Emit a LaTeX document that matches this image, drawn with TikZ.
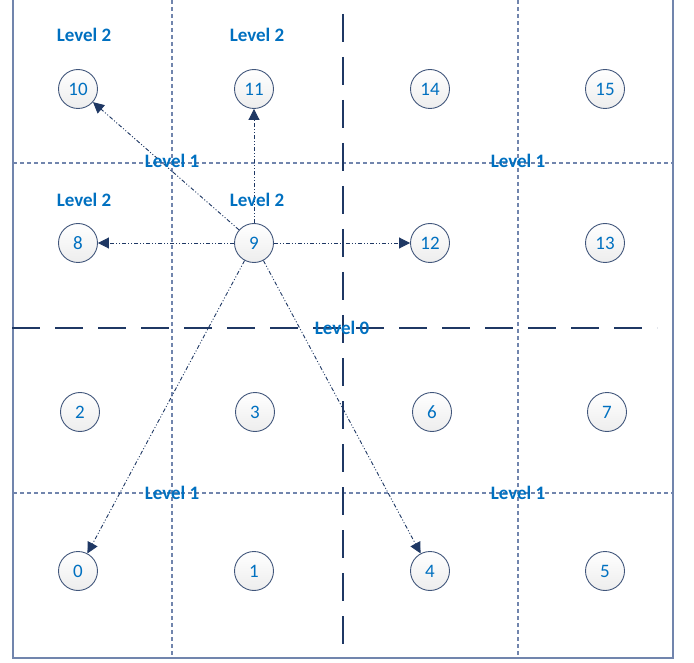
\documentclass[tikz,border=0pt]{standalone}
\usepackage{fontspec}
\setmainfont{Carlito}
\usetikzlibrary{arrows.meta}
\definecolor{navy}{HTML}{1F3864}
\definecolor{lvl}{HTML}{0070C0}
\definecolor{gridc}{HTML}{7185AD}
\begin{document}
\begin{tikzpicture}[x=1pt,y=-1pt,
 cell/.style={circle, draw=navy!85, line width=0.9pt, minimum size=39pt, inner sep=0pt, top color=white, bottom color=gray!14, text=lvl, font=\fontsize{19}{19}\selectfont},
 lvltext/.style={text=lvl, font=\bfseries\fontsize{19}{19}\selectfont},
 thingrid/.style={draw=gridc, line width=1.2pt, dash pattern=on 4pt off 3pt},
 thickgrid/.style={draw=navy, line width=2.8pt, dash pattern=on 28pt off 15pt},
 link/.style={draw=navy, line width=0.9pt, dash pattern=on 4pt off 2pt on 1pt off 2pt on 1pt off 2pt, -{Triangle[length=11pt,width=11pt]}}]
\useasboundingbox (0,0) rectangle (694,663);
% frame
\draw[draw=gridc, line width=1.6pt] (13,0) -- (13,658) -- (673,658) -- (673,0);
% thin grid lines
\draw[thingrid] (172,0) -- (172,658);
\draw[thingrid] (518,0) -- (518,658);
\draw[thingrid] (13,163) -- (673,163);
\draw[thingrid] (13,493) -- (673,493);
% thick grid lines
\draw[thickgrid] (343,14) -- (343,658);
\draw[thickgrid] (12,328) -- (657,328);
% nodes
\node[cell] (n10) at (78,89) {10};
\node[cell] (n11) at (254,89) {11};
\node[cell] (n14) at (430,89) {14};
\node[cell] (n15) at (605,89) {15};
\node[cell] (n8) at (78,243) {8};
\node[cell] (n9) at (254,243) {9};
\node[cell] (n12) at (430,243) {12};
\node[cell] (n13) at (605,243) {13};
\node[cell] (n2) at (80,412) {2};
\node[cell] (n3) at (255,412) {3};
\node[cell] (n6) at (432,412) {6};
\node[cell] (n7) at (607,412) {7};
\node[cell] (n0) at (78,571) {0};
\node[cell] (n1) at (254,571) {1};
\node[cell] (n4) at (430,571) {4};
\node[cell] (n5) at (605,571) {5};
% links
\draw[link] (n9) -- (n10);
\draw[link] (n9) -- (n11);
\draw[link] (n9) -- (n8);
\draw[link] (n9) -- (n12);
\draw[link] (n9) -- (n0);
\draw[link] (n9) -- (n4);
% labels
\node[lvltext] (l2a) at (84,35) {Level 2};
\node[lvltext] (l2b) at (257,35) {Level 2};
\node[lvltext] (l2c) at (84,200) {Level 2};
\node[lvltext] (l2d) at (257,200) {Level 2};
\node[lvltext] (l1a) at (172,161) {Level 1};
\node[lvltext] (l1b) at (518,161) {Level 1};
\node[lvltext] (l1c) at (172,493) {Level 1};
\node[lvltext] (l1d) at (518,493) {Level 1};
\node[lvltext] (l0) at (342,328) {Level 0};
\end{tikzpicture}
\end{document}
